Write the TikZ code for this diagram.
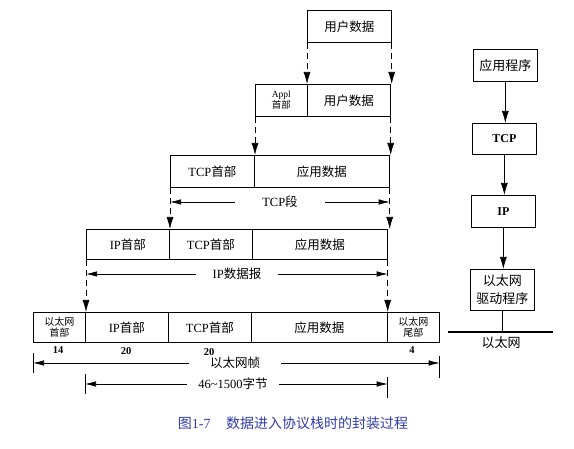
\documentclass[tikz,border=0pt]{standalone}
\usepackage{fontspec}
\setmainfont{Liberation Serif}
\newfontfamily\cjk{Noto Sans CJK SC}
\newcommand\zh[1]{{\cjk #1}}
\usetikzlibrary{arrows.meta}
\definecolor{capblue}{RGB}{50,60,170}
\begin{document}
\begin{tikzpicture}[x=1pt,y=-1pt,
  box/.style={draw, line width=0.7pt, anchor=north west, inner sep=0pt, align=center,
              font=\fontsize{12.5}{14}\selectfont},
  smallbox/.style={box, font=\cjk\fontsize{10}{11.5}\selectfont},
  dasharr/.style={line width=0.7pt, dash pattern=on 6pt off 4pt, -{Latex[length=12pt,width=7pt]}},
  dimarr/.style={line width=0.6pt, -{Latex[length=11pt,width=5.5pt]}},
  solarr/.style={line width=0.7pt, -{Latex[length=12pt,width=7pt]}},
  tickline/.style={line width=0.6pt},
  lbl/.style={font=\fontsize{12.5}{14}\selectfont, inner ysep=0pt},
  num/.style={font=\bfseries\fontsize{10.5}{12}\selectfont, inner sep=0pt},
]
\useasboundingbox (0,0) rectangle (574,449);

% Row 1
\node[box, minimum width=84pt, minimum height=32pt] (r1) at (307,10) {\zh{用户数据}};
% Row 2
\node[box, minimum width=52pt, minimum height=32pt, font=\fontsize{9.5}{9.5}\selectfont] (r2a) at (255,84) {Appl\\\zh{首部}};
\node[box, minimum width=83pt, minimum height=32pt] (r2b) at (307,84) {\zh{用户数据}};
% Row 3
\node[box, minimum width=84pt, minimum height=32pt] (r3a) at (170,155) {TCP\zh{首部}};
\node[box, minimum width=135pt, minimum height=32pt] (r3b) at (254,155) {\zh{应用数据}};
% Row 4
\node[box, minimum width=83pt, minimum height=30pt] (r4a) at (86,229) {IP\zh{首部}};
\node[box, minimum width=83pt, minimum height=30pt] (r4b) at (169,229) {TCP\zh{首部}};
\node[box, minimum width=135pt, minimum height=30pt] (r4c) at (252,229) {\zh{应用数据}};
% Row 5
\node[smallbox, minimum width=52pt, minimum height=30pt] (r5a) at (33,312) {以太网\\首部};
\node[box, minimum width=83pt, minimum height=30pt] (r5b) at (85,312) {IP\zh{首部}};
\node[box, minimum width=83pt, minimum height=30pt] (r5c) at (168,312) {TCP\zh{首部}};
\node[box, minimum width=136pt, minimum height=30pt] (r5d) at (251,312) {\zh{应用数据}};
\node[smallbox, minimum width=52pt, minimum height=30pt] (r5e) at (387,312) {以太网\\尾部};

% dashed arrows
\draw[dasharr] (r1.south west) -- (r2b.north west);
\draw[dasharr] (r1.south east) -- (r1.south east |- r2b.north);
\draw[dasharr] (r2a.south west) -- (r2a.south west |- r3a.north);
\draw[dasharr] (r2b.south east) -- (r2b.south east |- r3b.north);
\draw[dasharr] (r3a.south west) -- (r3a.south west |- r4a.north);
\draw[dasharr] (r3b.south east) -- (r3b.south east |- r4c.north);
\draw[dasharr] (r4a.south west) -- (r4a.south west |- r5a.north);
\draw[dasharr] (r4c.south east) -- (r4c.south east |- r5d.north);

% dimension labels
\node[lbl, inner xsep=27pt] (tcpseg) at (280,202) {TCP\zh{段}};
\draw[dimarr] (tcpseg.west) -- (r3a.south west |- tcpseg.west);
\draw[dimarr] (tcpseg.east) -- (r3b.south east |- tcpseg.east);

\node[lbl, inner xsep=16pt] (ipdg) at (237,274) {IP\zh{数据报}};
\draw[dimarr] (ipdg.west) -- (r4a.south west |- ipdg.west);
\draw[dimarr] (ipdg.east) -- (r4c.south east |- ipdg.east);

\node[lbl, inner xsep=21pt] (frame) at (235,363) {\zh{以太网帧}};
\draw[dimarr] (frame.west) -- (r5a.south west |- frame.west);
\draw[dimarr] (frame.east) -- (r5e.south east |- frame.east);
\draw[tickline] (r5a.south west |- 0,353) -- (r5a.south west |- 0,373);
\draw[tickline] (r5e.south east |- 0,356) -- (r5e.south east |- 0,378);

\node[lbl, inner xsep=11pt] (payload) at (233,384) {46\textasciitilde1500\zh{字节}};
\draw[dimarr] (payload.west) -- (r5b.south west |- payload.west);
\draw[dimarr] (payload.east) -- (r5d.south east |- payload.east);
\draw[tickline] (r5b.south west |- 0,374) -- (r5b.south west |- 0,394);
\draw[tickline] (r5d.south east |- 0,377) -- (r5d.south east |- 0,398);

% sizes
\node[num] (n14) at (58,350) {14};
\node[num] (n20a) at (126,351) {20};
\node[num] (n20b) at (209,352) {20};
\node[num] (n4) at (412,350) {4};

% right stack
\node[box, minimum width=64pt, minimum height=32pt, font=\cjk\fontsize{13}{15}\selectfont] (app) at (473,49) {应用程序};
\node[box, minimum width=64pt, minimum height=31pt, font=\bfseries\fontsize{12}{14}\selectfont] (tcp) at (472,123) {TCP};
\node[box, minimum width=64pt, minimum height=32pt, font=\bfseries\fontsize{12}{14}\selectfont] (ip) at (471,195) {IP};
\node[box, minimum width=64pt, minimum height=41pt, font=\cjk\fontsize{13}{18}\selectfont] (drv) at (470,269) {以太网\\驱动程序};
\draw[solarr] (app.south) -- (app.south |- tcp.north);
\draw[solarr] (tcp.south) -- (tcp.south |- ip.north);
\draw[solarr] (ip.south) -- (ip.south |- drv.north);
\coordinate (ethL) at (448,332);
\coordinate (ethR) at (553,332);
\draw[line width=2.6pt] (ethL) -- (ethR);
\draw[line width=0.7pt] (drv.south) -- (drv.south |- ethL);
\node[font=\cjk\fontsize{13}{15}\selectfont, inner sep=0pt] (ethlbl) at (501,343) {以太网};

% caption
\node[text=capblue, font=\fontsize{14}{16}\selectfont, inner sep=0pt] (cap) at (293,423)
  {\zh{图}1-7\hspace{1.1em}\zh{数据进入协议栈时的封装过程}};
\end{tikzpicture}
\end{document}
